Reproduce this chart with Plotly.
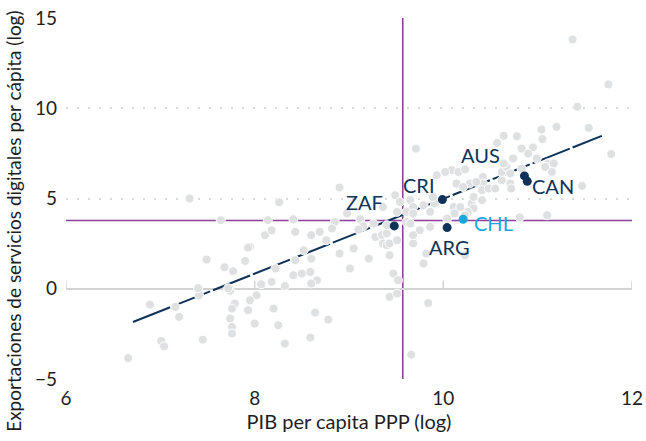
import plotly.graph_objects as go

# GDP per capita (log) and digital-services exports per capita (log), all countries
gdp_log = [
    11.37, 11.75, 11.42, 11.20, 11.54, 11.04, 11.05, 10.64, 10.78, 10.57, 10.83, 10.95, 9.71,
    10.90, 10.99, 11.11, 11.17, 11.15, 11.08, 11.78, 11.47, 11.10, 10.81, 10.83, 10.09, 10.16,
    10.23, 10.14, 10.28, 10.42, 10.42, 10.41, 10.41, 10.48, 10.55, 10.62, 10.62, 10.67, 10.71,
    10.71, 10.72, 10.30, 10.32, 10.26, 10.11, 10.04, 10.23,
    8.90, 9.93, 10.02, 8.26, 9.49, 9.54, 9.65, 9.68, 9.51, 9.36, 9.61, 9.68, 9.79, 9.91, 9.86,
    8.98, 8.14, 8.41, 8.85, 9.12, 9.15, 9.26, 8.11, 8.18, 8.43, 8.60, 8.69, 8.82, 9.10, 9.28,
    9.35, 9.40, 9.36, 9.40, 9.43, 9.51, 9.43, 9.61, 9.65, 9.68, 9.75, 9.79, 9.05, 8.90, 8.76,
    8.52, 8.60, 8.43, 8.22, 9.01, 9.21, 8.50, 8.41, 8.59, 8.66, 8.60, 8.18, 8.07, 8.32, 9.47,
    9.52, 7.95,
    8.02, 7.95, 8.20, 8.00, 8.25, 8.32, 8.64, 8.78, 8.59, 9.43, 9.51, 9.84, 9.66,
    6.89, 7.16, 7.20, 7.41, 7.74, 7.79, 7.76, 7.93, 7.74, 7.76, 7.76, 7.45, 7.01, 7.04, 6.66,
    7.31, 7.64, 7.93, 7.49, 7.68, 7.77, 7.90, 7.40, 7.72,
    9.40, 9.86, 9.68, 10.12, 10.18, 10.23, 9.82, 9.89, 10.35, 10.21, 10.74, 10.64, 10.32,
]
exports_log = [
    13.81, 11.32, 10.08, 8.97, 8.91, 8.82, 8.29, 8.47, 8.45, 8.08, 7.77, 7.83, 7.76,
    7.49, 7.22, 6.94, 6.94, 6.47, 6.75, 7.46, 5.70, 4.07, 3.95, 6.66, 6.57, 6.47,
    6.61, 5.83, 5.83, 6.20, 5.83, 5.46, 4.91, 5.55, 5.55, 6.01, 6.47, 6.75, 6.39,
    5.83, 5.55, 4.72, 4.45, 4.26, 4.53, 3.89, 1.86,
    5.61, 6.29, 6.47, 4.79, 5.18, 4.81, 4.91, 4.53, 4.26, 4.53, 4.26, 4.17, 4.63, 4.72, 4.26,
    4.17, 3.80, 3.85, 3.70, 3.85, 3.46, 3.61, 2.97, 3.24, 3.15, 2.97, 3.15, 3.34, 3.28, 2.87,
    2.97, 3.06, 2.51, 2.41, 2.51, 2.69, 1.86, 3.70, 3.61, 2.51, 3.24, 1.40, 2.23, 1.95, 2.69,
    2.13, 1.67, 1.58, 1.12, 1.12, 1.67, 0.84, 0.75, 0.93, 0.47, 0.29, 0.38, 0.25, 0.16, 0.84,
    0.47, 2.32,
    -0.36, -0.64, -1.10, -1.93, -2.02, -3.04, -1.32, -1.71, -2.71, -0.45, -0.27, -0.79, -3.65,
    -0.88, -1.01, -1.56, -0.36, -0.12, -0.82, -1.10, -1.19, -1.65, -2.12, -2.48, -2.82, -2.89, -3.19, -3.84,
    5.00, 3.80, 2.28, 1.62, 1.19, 0.97, 1.54, 0.03, 0.03,
    3.52, 3.43, 2.97, 4.17, 4.53, 4.07, 1.95, 5.09, 5.92, 5.64, 7.22, 6.94, 5.09,
]

# Highlighted countries
hl_codes = ["ZAF", "CRI", "AUS", "CAN", "ARG", "CHL"]
hl_gdp = [9.48, 9.99, 10.86, 10.89, 10.04, 10.21]
hl_exports = [3.48, 4.94, 6.25, 5.95, 3.39, 3.85]
hl_colors = ["#0f3358", "#0f3358", "#0f3358", "#0f3358", "#0f3358", "#1ba6e2"]
# label offsets (px) relative to each point
hl_dx = [-30, -23, -44, 26, 2, 30]
hl_dy = [24, 15, 21, -5, -19, -4]

# Fitted trend line
trend_x = [6.71, 11.68]
trend_y = [-1.84, 8.47]

# Reference lines (Chile's values)
ref_gdp = 9.57
ref_exports = 3.78

x_ticks = [6, 8, 10, 12]
y_ticks = [-5, 0, 5, 10, 15]
x_range = [6, 12]
y_range = [-5, 15]

FONT = "Lato, Roboto, sans-serif"
NAVY = "#0f3358"
PURPLE = "#8e3f9e"
GREY_PT = "#dfe0e2"

fig = go.Figure()

# trend line sits beneath the country dots
fig.add_trace(go.Scatter(
    x=trend_x, y=trend_y, mode="lines",
    line=dict(color=NAVY, width=2, dash="40px,3px"),
    hoverinfo="skip", showlegend=False,
))

fig.add_trace(go.Scatter(
    x=gdp_log, y=exports_log, mode="markers",
    marker=dict(size=9, color=GREY_PT, line=dict(width=1, color="white")),
    hoverinfo="skip", showlegend=False,
))

fig.add_trace(go.Scatter(
    x=hl_gdp, y=hl_exports, mode="markers",
    marker=dict(size=9, color=hl_colors, line=dict(width=0)),
    text=hl_codes, showlegend=False,
))

for code, gx, ey, col, dx, dy in zip(hl_codes, hl_gdp, hl_exports, hl_colors, hl_dx, hl_dy):
    fig.add_annotation(
        x=gx, y=ey, text=code, showarrow=False,
        xshift=dx, yshift=dy,
        font=dict(family=FONT, size=20, color=col),
    )

# Chile reference lines
fig.add_shape(type="line", xref="x", yref="y",
              x0=ref_gdp, x1=ref_gdp, y0=y_range[0], y1=y_range[1],
              line=dict(color=PURPLE, width=1.6), layer="below")
fig.add_shape(type="line", xref="x", yref="y",
              x0=x_range[0], x1=x_range[1], y0=ref_exports, y1=ref_exports,
              line=dict(color=PURPLE, width=1.6), layer="below")

# Upward tick marks on the zero line
for t in x_ticks:
    fig.add_shape(type="line", xref="x", yref="y",
                  x0=t, x1=t, y0=0, y1=0.45,
                  line=dict(color="#d3d3d3", width=1.5), layer="below")

# Vertical axis title, centred on the full figure height
fig.add_annotation(
    text="Exportaciones de servicios digitales per cápita (log)",
    xref="paper", yref="paper", x=-0.092, y=0.438,
    xanchor="center", yanchor="middle", textangle=-90, showarrow=False,
    font=dict(family=FONT, size=19, color="#1e1e1e"),
)

fig.update_layout(
    width=646, height=441,
    margin=dict(l=66, r=14, t=18, b=62),
    paper_bgcolor="white", plot_bgcolor="white",
    font=dict(family=FONT, size=18, color="#1e1e1e"),
    xaxis=dict(
        range=x_range, tickvals=x_ticks, showgrid=False, zeroline=False,
        showline=False, ticks="", ticklabelstandoff=6, automargin=False,
        title=dict(text="PIB per capita PPP (log)", font=dict(size=20), standoff=4),
        tickfont=dict(size=19),
    ),
    yaxis=dict(
        range=y_range, tickvals=y_ticks, showgrid=True,
        gridcolor="#d9d9d9", gridwidth=2, griddash="2px,9px",
        zeroline=True, zerolinecolor="#d3d3d3", zerolinewidth=1.5,
        showline=False, ticks="", ticklabelstandoff=8, automargin=False,
        tickfont=dict(size=19),
    ),
)

fig.write_html("out.html")
